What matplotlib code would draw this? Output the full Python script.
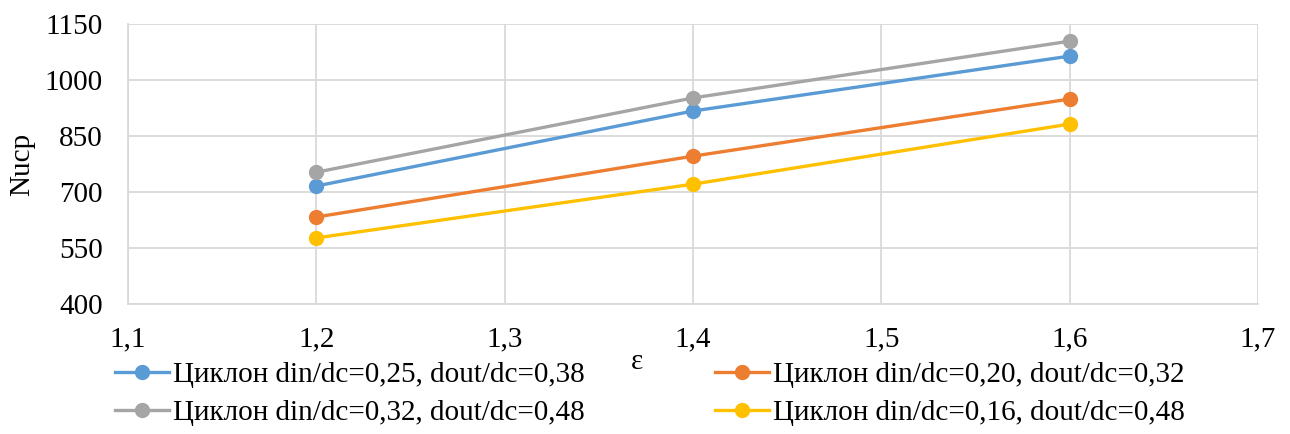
import matplotlib.pyplot as plt

# Data
eps = [1.2, 1.4, 1.6]
nu_025_038 = [716, 917, 1064]
nu_020_032 = [633, 796, 949]
nu_032_048 = [753, 952, 1104]
nu_016_048 = [577, 721, 882]

labels = [
    'Циклон din/dc=0,25, dout/dc=0,38',
    'Циклон din/dc=0,20, dout/dc=0,32',
    'Циклон din/dc=0,32, dout/dc=0,48',
    'Циклон din/dc=0,16, dout/dc=0,48',
]
colors = ['#5B9BD5', '#ED7D31', '#A5A5A5', '#FFC000']
series = [nu_025_038, nu_020_032, nu_032_048, nu_016_048]

x_ticks = [1.1, 1.2, 1.3, 1.4, 1.5, 1.6, 1.7]
y_ticks = [400, 550, 700, 850, 1000, 1150]

plt.rcParams['font.family'] = ['Liberation Serif', 'DejaVu Serif']
plt.rcParams['font.size'] = 21

fig = plt.figure(figsize=(12.9, 4.34), dpi=100)
ax = fig.add_axes([128 / 1290, 130 / 434, 1130 / 1290, 280 / 434])

lines = {}
for vals, lab, col in zip(series, labels, colors):
    ln, = ax.plot(eps, vals, color=col, lw=2.4, marker='o', markersize=10,
                  label=lab, zorder=3)
    lines[lab] = ln

ax.set_xlim(1.1, 1.7)
ax.set_ylim(400, 1150)
ax.set_xticks(x_ticks)
ax.set_xticklabels([f'{t:.1f}'.replace('.', ',') for t in x_ticks])
ax.set_yticks(y_ticks)
ax.grid(True, color='#D9D9D9', lw=1.3)
ax.set_axisbelow(True)
for s in ['top', 'right']:
    ax.spines[s].set_visible(False)
for s in ['left', 'bottom']:
    ax.spines[s].set_color('#D9D9D9')
    ax.spines[s].set_linewidth(1.3)
ax.tick_params(axis='x', length=0, pad=16, colors='black')
ax.tick_params(axis='y', length=0, pad=18, colors='black')
ax.set_ylabel('Nucp', labelpad=7)

fig.text(637 / 1290, 1 - 362 / 434, 'ε', ha='center', va='center')

# legend: column-wise fill, so order blue, gray, orange, yellow
order = [labels[0], labels[2], labels[1], labels[3]]
fig.legend([lines[l] for l in order], order, ncol=2, frameon=False,
           loc='upper left', bbox_to_anchor=(115 / 1290, 1 - 362 / 434),
           handlelength=1.85, handletextpad=0.15, columnspacing=4.45,
           labelspacing=0.4, borderpad=0, borderaxespad=0)

fig.savefig('out.png', dpi=100)
